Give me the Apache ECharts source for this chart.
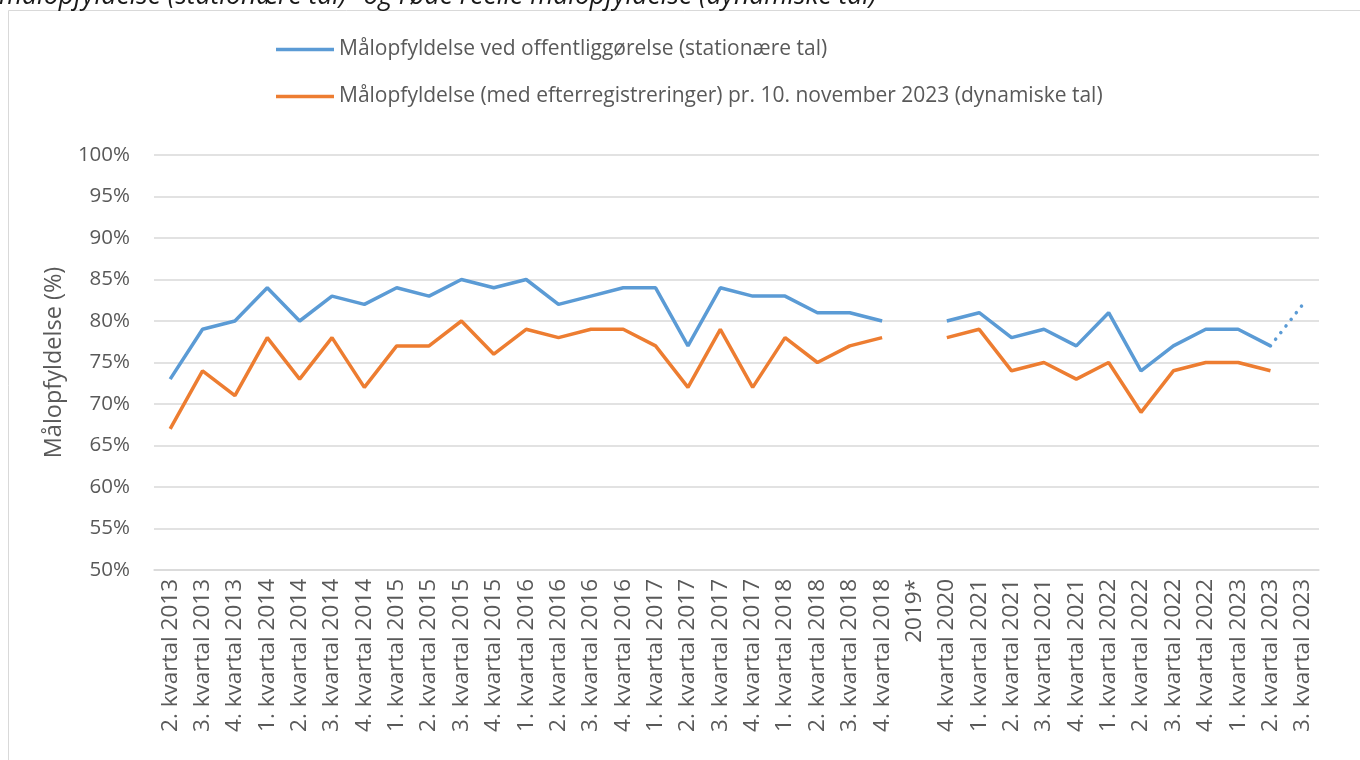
<!DOCTYPE html>
<html>
<head>
<meta charset="utf-8">
<script src="https://cdn.jsdelivr.net/npm/echarts@6/dist/echarts.min.js"></script>
<style>
  html, body { margin: 0; padding: 0; background: #fff; }
  #chart { width: 1360px; height: 760px; }
</style>
</head>
<body>
<div id="chart"></div>
<script>
// kategorier (kvartaler)
var categories = [
  '2. kvartal 2013', '3. kvartal 2013', '4. kvartal 2013',
  '1. kvartal 2014', '2. kvartal 2014', '3. kvartal 2014', '4. kvartal 2014',
  '1. kvartal 2015', '2. kvartal 2015', '3. kvartal 2015', '4. kvartal 2015',
  '1. kvartal 2016', '2. kvartal 2016', '3. kvartal 2016', '4. kvartal 2016',
  '1. kvartal 2017', '2. kvartal 2017', '3. kvartal 2017', '4. kvartal 2017',
  '1. kvartal 2018', '2. kvartal 2018', '3. kvartal 2018', '4. kvartal 2018',
  '2019*',
  '4. kvartal 2020',
  '1. kvartal 2021', '2. kvartal 2021', '3. kvartal 2021', '4. kvartal 2021',
  '1. kvartal 2022', '2. kvartal 2022', '3. kvartal 2022', '4. kvartal 2022',
  '1. kvartal 2023', '2. kvartal 2023', '3. kvartal 2023'
]
// stationære tal
var stationaer = [
  73, 79, 80,
  84, 80, 83, 82,
  84, 83, 85, 84,
  85, 82, 83, 84,
  84, 77, 84, 83,
  83, 81, 81, 80,
  null,
  80,
  81, 78, 79, 77,
  81, 74, 77, 79,
  79, 77, null
]
// foreløbigt tal (prikket)
var stationaerProg = [
  null, null, null,
  null, null, null, null,
  null, null, null, null,
  null, null, null, null,
  null, null, null, null,
  null, null, null, null,
  null,
  null,
  null, null, null, null,
  null, null, null, null,
  null, 77, 82
]
// dynamiske tal
var dynamisk = [
  67, 74, 71,
  78, 73, 78, 72,
  77, 77, 80, 76,
  79, 78, 79, 79,
  77, 72, 79, 72,
  78, 75, 77, 78,
  null,
  78,
  79, 74, 75, 73,
  75, 69, 74, 75,
  75, 74, null
]
var nameStat = 'Målopfyldelse ved offentliggørelse (stationære tal)'
var nameDyn = 'Målopfyldelse (med efterregistreringer) pr. 10. november 2023 (dynamiske tal)'

var fontFam = '"Open Sans", "Noto Sans", sans-serif'
var myChart = echarts.init(document.getElementById('chart'))
myChart.setOption({
  animation: false,
  textStyle: { fontFamily: fontFam },
  graphic: [
    {
      type: 'rect',
      shape: { x: 8.5, y: 10.5, width: 1360, height: 760 },
      style: { fill: 'none', stroke: '#d9d9d9', lineWidth: 1 }
    },
    {
      type: 'text',
      x: -1,
      y: -4,
      style: {
        text: 'målopfyldelse (stationære tal)" og røde reelle målopfyldelse (dynamiske tal)',
        font: 'italic 26.5px ' + fontFam,
        fill: '#1a1a1a',
        verticalAlign: 'middle'
      }
    }
  ],
  legend: {
    orient: 'vertical',
    left: 271,
    top: 34,
    icon: 'rect',
    itemWidth: 58,
    itemHeight: 3.5,
    itemGap: 26,
    data: [nameStat, nameDyn],
    textStyle: { fontSize: 21, color: '#595959', fontFamily: fontFam }
  },
  grid: {
    left: 154,
    right: 41,
    top: 155,
    bottom: 190
  },
  xAxis: {
    type: 'category',
    data: categories,
    boundaryGap: true,
    axisLine: { lineStyle: { color: '#d9d9d9', width: 1.5 } },
    axisTick: { show: false },
    axisLabel: {
      interval: 0,
      rotate: 90,
      margin: 9,
      fontSize: 22.5,
      color: '#595959'
    }
  },
  yAxis: {
    type: 'value',
    min: 50,
    max: 100,
    interval: 5,
    name: 'Målopfyldelse (%)',
    nameLocation: 'middle',
    nameGap: 88,
    nameTextStyle: { fontSize: 23.5, color: '#595959' },
    axisLine: { show: false },
    axisTick: { show: false },
    axisLabel: {
      formatter: '{value}%',
      margin: 24,
      fontSize: 20.5,
      color: '#595959'
    },
    splitLine: { lineStyle: { color: '#d9d9d9', width: 1.5 } }
  },
  series: [
    {
      name: nameStat,
      type: 'line',
      data: stationaer,
      symbol: 'none',
      connectNulls: false,
      lineStyle: { color: '#5B9BD5', width: 3.5 },
      itemStyle: { color: '#5B9BD5' }
    },
    {
      name: nameDyn,
      type: 'line',
      data: dynamisk,
      symbol: 'none',
      connectNulls: false,
      lineStyle: { color: '#ED7D31', width: 3.5 },
      itemStyle: { color: '#ED7D31' }
    },
    {
      name: 'prog',
      type: 'line',
      data: stationaerProg,
      symbol: 'none',
      lineStyle: { color: '#5B9BD5', width: 3.5, type: [0.1, 8.3], cap: 'round' },
      itemStyle: { color: '#5B9BD5' }
    }
  ]
})
</script>
</body>
</html>
